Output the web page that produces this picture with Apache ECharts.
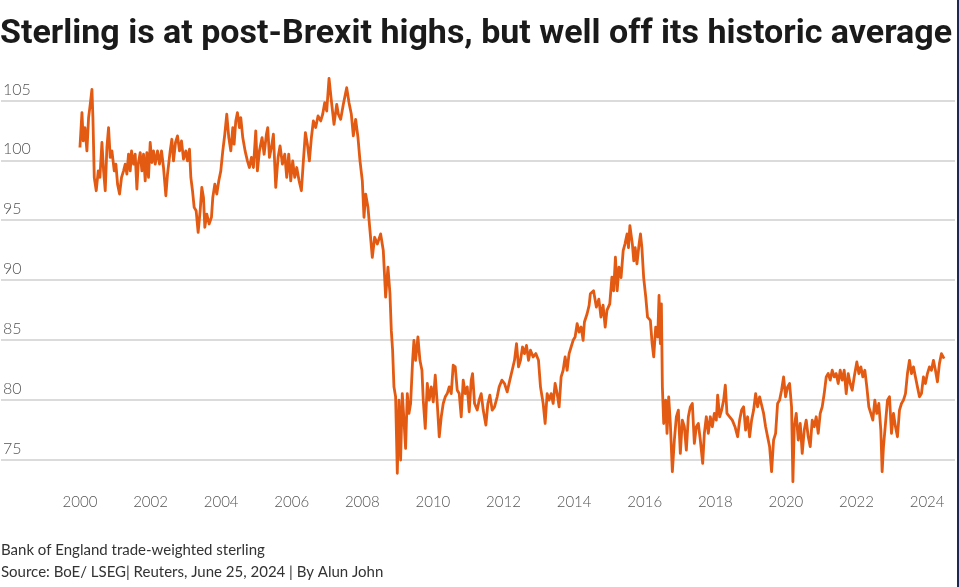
<!DOCTYPE html>
<html>
<head>
<meta charset="utf-8">
<script src="https://cdn.jsdelivr.net/npm/echarts@6/dist/echarts.min.js"></script>
<style>
html,body{margin:0;padding:0;background:#fff;}
#chart{width:959px;height:587px;}
</style>
</head>
<body>
<div id="chart"></div>
<script>
// ---- data: [decimal year, index value] ----
const titleText = 'Sterling is at post-Brexit highs, but well off its historic average';
const noteText = 'Bank of England trade-weighted sterling';
const sourceText = 'Source: BoE/ LSEG| Reuters, June 25, 2024 | By Alun John';
const yTicks = [75, 80, 85, 90, 95, 100, 105];
const xTickYears = [2000, 2002, 2004, 2006, 2008, 2010, 2012, 2014, 2016, 2018, 2020, 2022, 2024];

const pre2008 = [[2000.000,101.07],[2000.057,103.99],[2000.094,101.62],[2000.142,102.74],[2000.198,100.79],[2000.245,103.57],[2000.292,104.68],[2000.340,105.93],[2000.368,103.57],[2000.406,98.57],[2000.462,97.46],[2000.519,99.12],[2000.566,98.57],[2000.623,101.49],[2000.670,99.12],[2000.717,97.46],[2000.764,101.07],[2000.811,102.74],[2000.858,100.24],[2000.906,100.79],[2000.972,99.12],[2001.019,99.68],[2001.066,98.01],[2001.123,97.18],[2001.179,98.57],[2001.236,99.12],[2001.283,99.68],[2001.330,98.85],[2001.377,100.51],[2001.425,99.12],[2001.462,100.79],[2001.519,99.68],[2001.566,100.51],[2001.613,97.60],[2001.651,99.68],[2001.708,100.65],[2001.755,99.12],[2001.802,100.51],[2001.849,98.29],[2001.896,100.65],[2001.943,98.57],[2001.991,101.49],[2002.038,99.82],[2002.085,100.79],[2002.132,99.68],[2002.198,100.79],[2002.255,99.68],[2002.311,100.79],[2002.368,99.40],[2002.434,97.04],[2002.481,98.85],[2002.557,100.79],[2002.604,101.76],[2002.651,99.96],[2002.708,101.49],[2002.764,102.04],[2002.821,100.79],[2002.877,101.62],[2002.934,100.10],[2003.000,100.79],[2003.047,99.96],[2003.104,100.93],[2003.142,98.57],[2003.189,97.46],[2003.236,96.07],[2003.292,95.79],[2003.349,93.99],[2003.406,95.79],[2003.453,97.74],[2003.500,96.90],[2003.538,94.40],[2003.594,95.51],[2003.660,94.68],[2003.726,95.24],[2003.764,96.90],[2003.821,98.01],[2003.877,97.18],[2003.934,98.29],[2003.991,99.12],[2004.047,100.79],[2004.104,102.18],[2004.160,103.85],[2004.217,101.90],[2004.274,100.79],[2004.330,102.74],[2004.368,101.35],[2004.415,103.29],[2004.462,103.99],[2004.519,102.74],[2004.557,103.57],[2004.613,101.90],[2004.679,100.79],[2004.745,99.96],[2004.802,99.40],[2004.858,100.24],[2004.915,99.40],[2004.981,102.46],[2005.028,99.12],[2005.085,100.79],[2005.160,101.90],[2005.217,100.51],[2005.283,102.18],[2005.321,102.74],[2005.368,100.24],[2005.425,101.07],[2005.481,102.18],[2005.547,97.74],[2005.613,100.24],[2005.670,101.21],[2005.736,99.68],[2005.802,100.51],[2005.858,98.57],[2005.915,100.51],[2005.972,98.29],[2006.028,99.96],[2006.085,98.57],[2006.142,99.40],[2006.208,98.29],[2006.274,97.46],[2006.330,99.96],[2006.387,102.32],[2006.443,101.35],[2006.500,99.96],[2006.557,101.90],[2006.613,103.29],[2006.679,102.74],[2006.745,103.71],[2006.821,103.29],[2006.877,103.85],[2006.934,104.82],[2006.991,104.12],[2007.057,106.85],[2007.123,104.96],[2007.198,103.01],[2007.274,104.68],[2007.321,103.85],[2007.387,103.43],[2007.462,104.68],[2007.557,106.07],[2007.623,104.82],[2007.689,103.85],[2007.745,102.04],[2007.811,103.43],[2007.877,101.90],[2007.934,99.96]];

const crisis = [[2008.000,98.29],[2008.047,95.24],[2008.094,97.18],[2008.160,96.07],[2008.217,94.12],[2008.283,91.90],[2008.349,93.57],[2008.425,93.01],[2008.519,93.85],[2008.594,92.46],[2008.660,88.57],[2008.726,91.07],[2008.783,88.85],[2008.821,85.79],[2008.858,84.13],[2008.896,81.07],[2008.943,80.24],[2008.991,73.85],[2009.038,79.96],[2009.085,74.96],[2009.132,80.51],[2009.179,78.29],[2009.226,75.93],[2009.274,80.51],[2009.321,78.85],[2009.368,79.68],[2009.425,83.29],[2009.462,84.96],[2009.509,83.29],[2009.575,85.24],[2009.632,83.29],[2009.689,82.46],[2009.726,79.96],[2009.783,77.60],[2009.840,81.35],[2009.896,79.96],[2009.953,81.07]];

const recovery = [[2010.009,79.82],[2010.066,82.04],[2010.123,79.68],[2010.179,76.90],[2010.236,78.57],[2010.292,79.68],[2010.349,80.24],[2010.406,80.51],[2010.462,81.07],[2010.519,80.51],[2010.575,82.88],[2010.632,82.74],[2010.689,80.79],[2010.745,80.51],[2010.802,78.57],[2010.858,81.63],[2010.915,80.51],[2010.972,81.07],[2011.028,78.99],[2011.085,81.63],[2011.123,82.18],[2011.179,79.68],[2011.255,79.13],[2011.311,79.96],[2011.368,80.51],[2011.425,79.13],[2011.500,77.88],[2011.557,79.68],[2011.613,80.38],[2011.679,79.13],[2011.745,79.40],[2011.821,80.24],[2011.877,81.07],[2011.953,81.63],[2012.028,81.35],[2012.104,80.65],[2012.179,81.63],[2012.245,82.46],[2012.311,83.29],[2012.368,84.68],[2012.425,82.74],[2012.481,83.29],[2012.538,84.40],[2012.594,83.85],[2012.651,84.54],[2012.708,83.29],[2012.764,84.13],[2012.840,83.57],[2012.915,83.85],[2012.991,83.29],[2013.047,81.07],[2013.123,79.68],[2013.179,78.01],[2013.236,80.51],[2013.292,79.96],[2013.349,80.51],[2013.406,79.68],[2013.462,81.35],[2013.519,80.51],[2013.575,79.40],[2013.632,81.90],[2013.689,82.46],[2013.745,83.57],[2013.802,82.46],[2013.858,83.85],[2013.915,84.40],[2013.972,84.96],[2014.028,85.24],[2014.085,86.35],[2014.142,85.65],[2014.198,86.07],[2014.255,84.96],[2014.292,86.49],[2014.368,87.18],[2014.425,87.88]];

const peak2015 = [[2014.46,88.85],[2014.55,89.10],[2014.63,87.74],[2014.70,88.40],[2014.76,86.90],[2014.82,87.90],[2014.88,86.07],[2014.93,87.46],[2015.01,88.00],[2015.07,90.23],[2015.12,89.10],[2015.17,91.90],[2015.22,89.10],[2015.27,91.07],[2015.33,90.20],[2015.39,92.46],[2015.44,93.00],[2015.50,93.85],[2015.54,92.70],[2015.58,94.54],[2015.61,94.68],[2015.65,93.00],[2015.69,91.60],[2015.73,92.70],[2015.78,91.35],[2015.84,93.00],[2015.88,93.85],[2015.92,92.70],[2015.97,90.20],[2016.03,88.57],[2016.08,86.90]];

const brexit = [[2016.16,86.63],[2016.21,84.68],[2016.255,83.57],[2016.311,86.07],[2016.368,85.24],[2016.406,88.71],[2016.443,84.68],[2016.472,88.01],[2016.500,81.07],[2016.538,78.01],[2016.594,79.96],[2016.632,77.18],[2016.679,80.24],[2016.726,78.01],[2016.783,73.99],[2016.840,76.63],[2016.896,78.57],[2016.953,79.13],[2017.009,75.51],[2017.066,78.29],[2017.123,77.74],[2017.179,75.79],[2017.236,78.57],[2017.292,79.40],[2017.349,79.68],[2017.406,76.35],[2017.462,77.74],[2017.519,78.01],[2017.575,76.63],[2017.642,74.68],[2017.689,77.18],[2017.745,78.57],[2017.802,77.18],[2017.858,78.57],[2017.915,77.74],[2017.972,78.85],[2018.028,78.29],[2018.066,80.38],[2018.123,78.57],[2018.179,79.13],[2018.236,79.96],[2018.283,81.21],[2018.330,78.85],[2018.406,78.57],[2018.481,78.29],[2018.557,77.74],[2018.632,76.90],[2018.689,78.29],[2018.745,79.13],[2018.802,79.40],[2018.858,77.46],[2018.915,78.57],[2018.972,76.90],[2019.028,78.29],[2019.085,79.13],[2019.142,80.51],[2019.198,79.40],[2019.255,80.24],[2019.311,80.24],[2019.368,78.85],[2019.425,77.74],[2019.481,76.90],[2019.538,76.07],[2019.594,73.99],[2019.651,76.63],[2019.708,77.18],[2019.764,79.68],[2019.821,79.96],[2019.877,80.79],[2019.934,81.90],[2019.991,80.24]];

const recent = [[2020.047,81.07],[2020.104,81.35],[2020.160,79.40],[2020.198,73.15],[2020.236,77.74],[2020.292,78.85],[2020.349,76.63],[2020.406,78.01],[2020.462,75.51],[2020.519,77.46],[2020.575,78.29],[2020.632,76.90],[2020.689,76.07],[2020.745,78.29],[2020.802,77.74],[2020.858,78.57],[2020.915,77.18],[2020.972,78.85],[2021.028,79.40],[2021.085,80.51],[2021.142,81.90],[2021.198,82.18],[2021.255,81.63],[2021.311,82.46],[2021.368,81.90],[2021.425,82.18],[2021.481,81.35],[2021.538,82.46],[2021.594,81.63],[2021.651,82.46],[2021.708,80.51],[2021.764,82.18],[2021.821,81.35],[2021.877,80.79],[2021.934,81.90],[2022.009,83.15],[2022.066,82.18],[2022.123,82.74],[2022.179,81.90],[2022.236,82.46],[2022.292,81.07],[2022.349,79.40],[2022.406,78.85],[2022.462,78.29],[2022.519,79.96],[2022.575,78.85],[2022.632,79.68],[2022.689,77.46],[2022.726,73.99],[2022.764,76.07],[2022.821,78.01],[2022.877,79.96],[2022.934,80.24],[2022.991,77.18],[2023.047,78.85],[2023.104,77.74],[2023.160,76.90],[2023.217,79.13],[2023.274,79.68],[2023.330,79.96],[2023.387,80.51],[2023.443,82.18],[2023.500,83.29],[2023.557,82.18],[2023.613,82.74],[2023.670,81.90],[2023.726,81.07],[2023.783,80.24],[2023.840,80.51],[2023.896,81.90],[2023.953,81.35],[2024.009,82.18],[2024.066,82.74],[2024.123,82.46],[2024.179,83.29],[2024.236,82.46],[2024.292,81.49],[2024.349,83.01],[2024.406,83.85],[2024.481,83.43]];

const series = [].concat(pre2008, crisis, recovery, peak2015, brexit, recent);

const chart = echarts.init(document.getElementById('chart'), null, {renderer: 'canvas'});
const labelFont = 'Lato, "Source Sans Pro", sans-serif';
chart.setOption({
  animation: false,
  backgroundColor: '#ffffff',
  grid: {left: 0, right: 4, top: 100.5, bottom: 127.5, containLabel: false},
  xAxis: {
    type: 'value', min: 1997.764, max: 2024.79,
    axisLine: {show: false}, axisTick: {show: false}, splitLine: {show: false},
    axisLabel: {
      customValues: xTickYears,
      margin: 35, color: '#555', fontFamily: labelFont, fontWeight: 300, fontSize: 15,
      formatter: v => String(Math.round(v))
    }
  },
  yAxis: {
    type: 'value', min: yTicks[0], max: yTicks[yTicks.length - 1], interval: 5,
    axisLine: {show: false}, axisTick: {show: false},
    splitLine: {show: true, lineStyle: {color: '#cfcfcf', width: 1.5}},
    axisLabel: {
      inside: true, margin: 2, align: 'left', verticalAlign: 'bottom',
      padding: [0, 0, 3, 0],
      color: '#555', fontFamily: labelFont, fontWeight: 300, fontSize: 16
    }
  },
  series: [{
    type: 'line', data: series, showSymbol: false, symbol: 'none', clip: false,
    lineStyle: {color: '#e35a13', width: 2.8, join: 'round'},
    z: 5
  }],
  graphic: [
    {type: 'text', left: 0, top: 17, style: {text: titleText, fill: '#1a1a1a', font: 'bold 34px Roboto, sans-serif'}},
    {type: 'text', left: 1, top: 543, style: {text: noteText, fill: '#333', font: '15px Lato, sans-serif'}},
    {type: 'text', left: 1, top: 565, style: {text: sourceText, fill: '#333', font: '15px Lato, sans-serif'}},
    {type: 'rect', shape: {x: 957, y: 0, width: 2, height: 587}, style: {fill: '#1e2850'}}
  ]
});
</script>
</body>
</html>
